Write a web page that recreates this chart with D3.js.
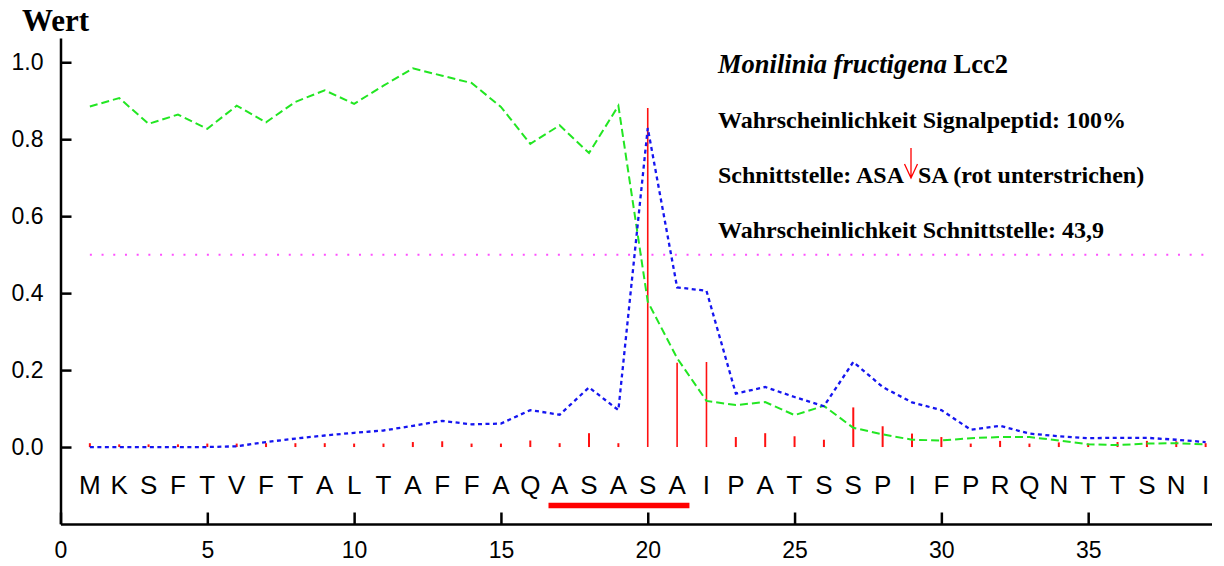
<!DOCTYPE html>
<html>
<head>
<meta charset="utf-8">
<script src="https://cdn.jsdelivr.net/npm/d3@7"></script>
<style>
  body { margin: 0; background: #fff; }
  svg { display: block; }
  .axis path, .axis line { stroke: #000; stroke-width: 2.5; }
  .axis text { font-family: "Liberation Sans", Arial, sans-serif; font-size: 23px; fill: #000; }
  .serif { font-family: "Liberation Serif", "Times New Roman", serif; fill: #000; }
</style>
</head>
<body>
<svg id="chart" width="1224" height="566"></svg>
<script>
// residues of the N-terminus (position 1..39)
const residues = "MKSFTVFTALTAFFAQASASAIPATSSPIFPRQNTTSNI".split("");

// C-score (red spikes)
const cScore = [0.010, 0.007, 0.007, 0.007, 0.009, 0.009, 0.010, 0.010, 0.010, 0.009,
  0.009, 0.013, 0.015, 0.009, 0.009, 0.017, 0.010, 0.036, 0.010, 0.881,
  0.219, 0.221, 0.026, 0.036, 0.028, 0.019, 0.103, 0.054, 0.035, 0.026,
  0.009, 0.016, 0.009, 0.012, 0.009, 0.013, 0.016, 0.015, 0.010];

// S-score (green dashed)
const sScore = [0.885, 0.907, 0.840, 0.864, 0.827, 0.887, 0.844, 0.897, 0.927, 0.892,
  0.939, 0.984, 0.965, 0.946, 0.884, 0.788, 0.836, 0.764, 0.887, 0.378,
  0.231, 0.120, 0.109, 0.117, 0.083, 0.107, 0.050, 0.033, 0.019, 0.017,
  0.023, 0.026, 0.026, 0.017, 0.007, 0.005, 0.009, 0.010, 0.007];

// Y-score (blue dotted)
const yScore = [0.000, 0.000, 0.000, 0.000, 0.000, 0.002, 0.013, 0.022, 0.030, 0.037,
  0.043, 0.055, 0.068, 0.059, 0.061, 0.096, 0.084, 0.155, 0.096, 0.829,
  0.415, 0.406, 0.139, 0.156, 0.130, 0.106, 0.221, 0.156, 0.116, 0.096,
  0.045, 0.055, 0.035, 0.028, 0.023, 0.024, 0.024, 0.019, 0.013];

const threshold = 0.5;
const cleavageSite = [17, 21]; // ASASA, underlined
const xTicks = [0, 5, 10, 15, 20, 25, 30, 35];
const yTicks = [0, 0.2, 0.4, 0.6, 0.8, 1.0];

const svg = d3.select("#chart");

const x = d3.scaleLinear().domain([0, 39.2]).range([60.5, 1211.5]);
const y = d3.scaleLinear().domain([-0.2, 1.063]).range([524, 38]);

// axes
svg.append("g")
  .attr("class", "axis")
  .attr("transform", `translate(0, ${y(-0.2)})`)
  .call(d3.axisBottom(x).tickValues(xTicks).tickSizeInner(-11.5).tickSizeOuter(0).tickPadding(18).tickFormat(d3.format("d")));

svg.append("g")
  .attr("class", "axis")
  .attr("transform", `translate(${x(0)}, 0)`)
  .call(d3.axisLeft(y).tickValues(yTicks).tickSizeInner(-11).tickSizeOuter(0).tickPadding(17).tickFormat(d3.format(".1f")));

// threshold line
svg.append("line")
  .attr("x1", x(1)).attr("x2", x(39.2))
  .attr("y1", y(threshold)).attr("y2", y(threshold))
  .attr("stroke", "#ff50ff")
  .attr("stroke-width", 2)
  .attr("stroke-dasharray", "2,9.7");

// C-score spikes
svg.selectAll(".cscore")
  .data(cScore)
  .join("line")
  .attr("class", "cscore")
  .attr("x1", (d, i) => x(i + 1))
  .attr("x2", (d, i) => x(i + 1))
  .attr("y1", y(0))
  .attr("y2", (d) => y(d))
  .attr("stroke", "#ff1010")
  .attr("stroke-width", (d) => (d > 0.15 ? 1.6 : 2));

const line = d3.line().x((d, i) => x(i + 1)).y((d) => y(d));

svg.append("path")
  .datum(sScore)
  .attr("d", line)
  .attr("fill", "none")
  .attr("stroke", "#22e622")
  .attr("stroke-width", 2)
  .attr("stroke-dasharray", "8,4");

svg.append("path")
  .datum(yScore)
  .attr("d", line)
  .attr("fill", "none")
  .attr("stroke", "#1515f0")
  .attr("stroke-width", 2.3)
  .attr("stroke-dasharray", "4,3.5");

// residue letters
svg.selectAll(".residue")
  .data(residues)
  .join("text")
  .attr("class", "residue")
  .attr("x", (d, i) => x(i + 1))
  .attr("y", 494)
  .attr("text-anchor", "middle")
  .style("font-family", "'Liberation Sans', Arial, sans-serif")
  .style("font-size", "26px")
  .text((d) => d);

// red underline for cleavage region
const step = x(1) - x(0);
svg.append("line")
  .attr("x1", x(cleavageSite[0]) - step * 0.38)
  .attr("x2", x(cleavageSite[1]) + step * 0.42)
  .attr("y1", 505.5).attr("y2", 505.5)
  .attr("stroke", "#ff0000")
  .attr("stroke-width", 5.5);

// y label
svg.append("text")
  .attr("class", "serif")
  .attr("x", 22).attr("y", 31)
  .style("font-size", "31px")
  .style("font-weight", "bold")
  .text("Wert");

// annotation
const title = svg.append("text")
  .attr("class", "serif")
  .attr("x", 718).attr("y", 73)
  .style("font-size", "26.5px");
title.append("tspan").style("font-style", "italic").style("font-weight", "bold").text("Monilinia fructigena");
title.append("tspan").style("font-weight", "bold").text(" Lcc2");

svg.append("text")
  .attr("class", "serif")
  .attr("x", 718).attr("y", 128)
  .style("font-size", "24px").style("font-weight", "bold")
  .text("Wahrscheinlichkeit Signalpeptid: 100%");

const cut1 = svg.append("text")
  .attr("class", "serif")
  .attr("x", 718).attr("y", 183)
  .style("font-size", "24px").style("font-weight", "bold")
  .text("Schnittstelle: ASA");
const cutEnd = 718 + cut1.node().getComputedTextLength();
const arrowX = cutEnd + 7;
svg.append("text")
  .attr("class", "serif")
  .attr("x", cutEnd + 14).attr("y", 183)
  .style("font-size", "24px").style("font-weight", "bold")
  .text("SA (rot unterstrichen)");

svg.append("path")
  .attr("d", `M${arrowX},148 L${arrowX},178 M${arrowX - 6.5},164 L${arrowX},178 L${arrowX + 6.5},164`)
  .attr("fill", "none")
  .attr("stroke", "#ff0000")
  .attr("stroke-width", 1.3);

svg.append("text")
  .attr("class", "serif")
  .attr("x", 718).attr("y", 238)
  .style("font-size", "24px").style("font-weight", "bold")
  .text("Wahrscheinlichkeit Schnittstelle: 43,9");
</script>
</body>
</html>
